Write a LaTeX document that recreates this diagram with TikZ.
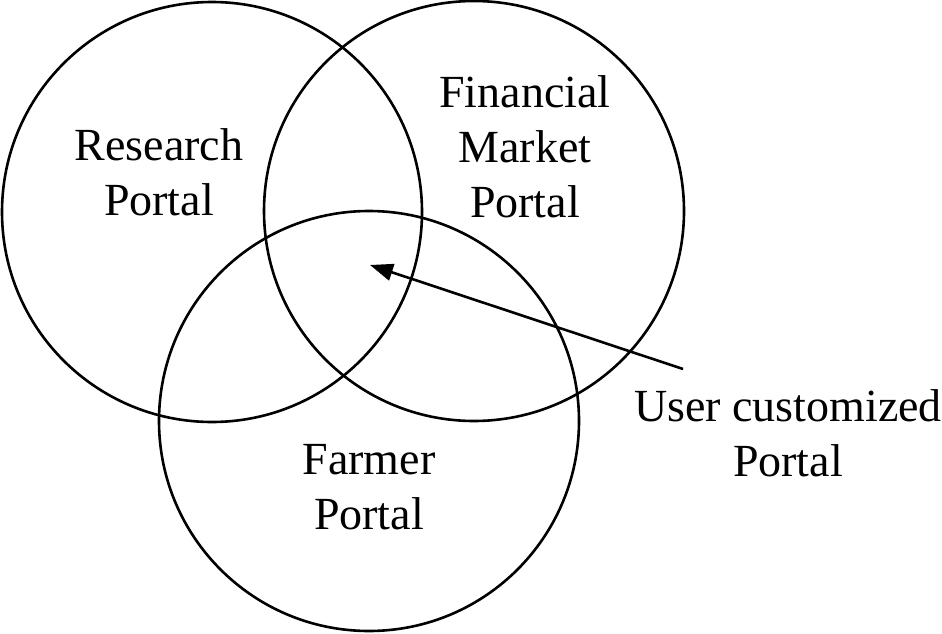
\documentclass[tikz,border=0pt]{standalone}
\usepackage{fontspec}
\setmainfont{Liberation Serif}
\usepackage{tikz}
\usetikzlibrary{shapes.geometric, arrows.meta}
\tikzstyle{portal} = [circle, minimum size=420pt, inner sep=0pt, draw=black, line width=2.6pt]
\tikzstyle{caption} = [align=center, anchor=base, inner sep=0pt, font=\fontsize{46}{55}\selectfont]
\tikzstyle{arrow} = [line width=2.6pt, -{Triangle[length=23pt, width=17pt]}]

\begin{document}
\begin{tikzpicture}[x=1pt, y=-1pt]
\useasboundingbox (0,0) rectangle (942,634);
\node (research) [portal] at (212,212) {};
\node (financial) [portal] at (474,211) {};
\node (farmer) [portal] at (369,421) {};

\node (researchtext) [caption] at (159,215) {Research\\Portal};
\node (financialtext) [caption] at (525,217) {Financial\\Market\\Portal};
\node (farmertext) [caption] at (369,529) {Farmer\\Portal};
\node (usertext) [caption] at (788,476) {User customized\\Portal};

\coordinate (tail) at (683,369);
\coordinate (common) at (370,265);
\draw [arrow] (tail) -- (common);
\end{tikzpicture}
\end{document}
